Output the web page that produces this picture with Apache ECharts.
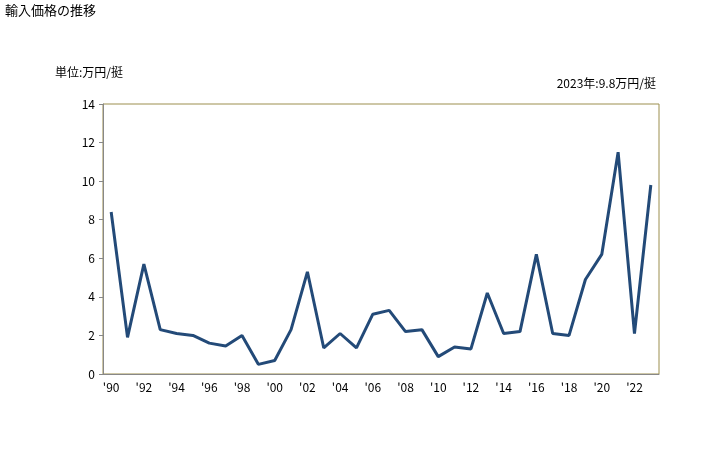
<!DOCTYPE html>
<html><head><meta charset="utf-8">
<script src="https://cdn.jsdelivr.net/npm/echarts@6/dist/echarts.min.js"></script>
<style>html,body{margin:0;padding:0;background:#fff}#c{width:728px;height:450px}</style>
</head><body><div id="c"></div>
<script>
const years = ['1990','1991','1992','1993','1994','1995','1996','1997','1998','1999','2000','2001','2002','2003','2004','2005','2006','2007','2008','2009','2010','2011','2012','2013','2014','2015','2016','2017','2018','2019','2020','2021','2022','2023'];
const values = [8.4,1.9,5.7,2.3,2.1,2.0,1.6,1.45,2.0,0.5,0.7,2.3,5.3,1.35,2.1,1.35,3.1,3.3,2.2,2.3,0.9,1.4,1.3,4.2,2.1,2.2,6.2,2.1,2.0,4.9,6.2,11.5,2.1,9.8];
const titleText = '輸入価格の推移';
const unitText = '単位:万円/挺';
const noteText = '2023年:9.8万円/挺';
const font = '"Noto Sans CJK JP", sans-serif';
const chart = echarts.init(document.getElementById('c'));
chart.setOption({
  animation: false,
  textStyle: {fontFamily: font},
  title: [
    {text: titleText, left: 5, top: 4, padding: 0, textStyle: {fontSize: 13, fontWeight: 'normal', color: '#000', fontFamily: font}},
    {text: unitText, left: 55, top: 66, padding: 0, textStyle: {fontSize: 12, fontWeight: 'normal', color: '#000', fontFamily: font}},
    {text: noteText, right: 72, top: 77, padding: 0, textStyle: {fontSize: 12, fontWeight: 'normal', color: '#000', fontFamily: font}}
  ],
  grid: {left: 103, right: 69, top: 104, bottom: 76, show: true, borderColor: '#9c8f4f', borderWidth: 1, backgroundColor: '#fff'},
  xAxis: {
    type: 'category', data: years, boundaryGap: true,
    axisLine: {lineStyle: {color: '#888', width: 1}},
    axisTick: {show: false},
    axisLabel: {interval: 1, color: '#000', fontSize: 12, margin: 7, fontFamily: font,
      formatter: v => "'" + v.slice(2)}
  },
  yAxis: {
    type: 'value', min: 0, max: 14, interval: 2,
    axisLine: {show: true, lineStyle: {color: '#888', width: 1}},
    axisTick: {show: true, length: 4, lineStyle: {color: '#888'}},
    splitLine: {show: false},
    axisLabel: {color: '#000', fontSize: 12, margin: 8, fontFamily: font}
  },
  series: [{
    type: 'line', data: values, symbol: 'none',
    lineStyle: {color: '#234a78', width: 3}, itemStyle: {color: '#234a78'}
  }]
});
</script></body></html>
